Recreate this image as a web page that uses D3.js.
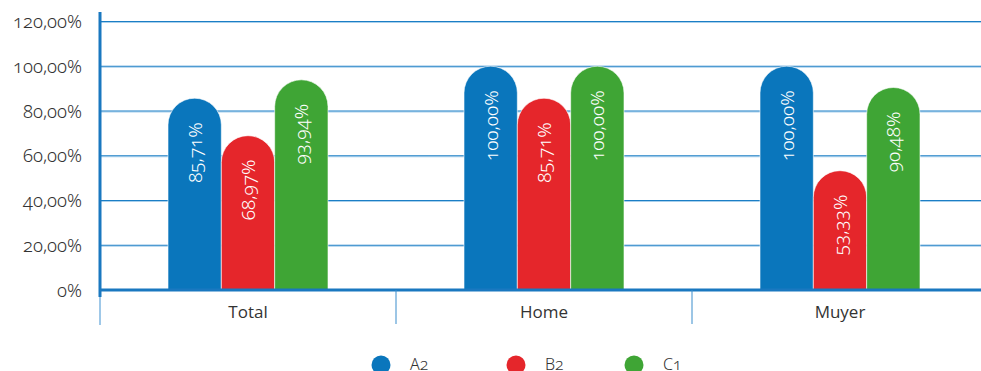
<!DOCTYPE html>
<html><head><meta charset="utf-8">
<script src="https://cdn.jsdelivr.net/npm/d3@7/dist/d3.min.js"></script>
<style>
body{margin:0;background:#fff;}
svg{display:block;}
.num{font-family:"Noto Sans",sans-serif;font-weight:300;font-variant-numeric:oldstyle-nums;font-feature-settings:"onum" 1;}
</style></head><body>
<svg id="c" width="981" height="371"></svg>
<script>
const categories = ["Total","Home","Muyer"];
const seriesNames = ["A2","B2","C1"];
const seriesColors = ["#0a76bc","#e5262b","#3fa535"];
const A2 = [85.71, 100.00, 100.00];
const B2 = [68.97, 85.71, 53.33];
const C1 = [93.94, 100.00, 90.48];
const yTicks = [0,20,40,60,80,100,120];
const yTickLabels = ["0%","20,00%","40,00%","60,00%","80,00%","100,00%","120,00%"];

const series = [A2,B2,C1];
const svg = d3.select("#c");
const pLeft = 100, pRight = 988, pTop = 21.5, pBottom = 290;
const y = d3.scaleLinear().domain([0,120]).range([pBottom, pTop]);
const x = d3.scaleBand().domain(categories).range([pLeft, pRight]);
const inner = d3.scaleBand().domain(seriesNames).range([0,160]).paddingInner(0.0);
const fmt = v => v.toFixed(2).replace(".", ",") + "%";

// gridlines
const g = svg.append("g");
yTicks.filter(t=>t>0).forEach(t=>{
  g.append("line").attr("x1",pLeft).attr("x2",981).attr("y1",y(t)+1).attr("y2",y(t)+1).attr("stroke","#a9d0ec").attr("stroke-width",1);
  g.append("line").attr("x1",pLeft).attr("x2",981).attr("y1",y(t)).attr("y2",y(t)).attr("stroke","#1b7ec5").attr("stroke-width",1.2);
});

// y tick labels
svg.append("g").selectAll("text").data(yTicks).join("text")
  .attr("class","num")
  .attr("x",82).attr("y",d=>y(d)).attr("dy","0.36em")
  .attr("text-anchor","end").attr("font-size",18.5).attr("fill","#333")
  .text((d,i)=>yTickLabels[i]);

// bars
categories.forEach((c,ci)=>{
  const gx = x(c) + (x.bandwidth()-160)/2;
  series.forEach((s,si)=>{
    const v = s[ci];
    const bx = gx + inner(seriesNames[si]);
    const w = inner.bandwidth();
    const r = w/2;
    const yt = y(v);
    const path = d3.path();
    path.moveTo(bx, pBottom);
    path.lineTo(bx, yt + r);
    path.arc(bx + r, yt + r, r, Math.PI, 0);
    path.lineTo(bx + w, pBottom);
    path.closePath();
    svg.append("path").attr("d", path.toString()).attr("fill", seriesColors[si])
      .attr("stroke","#fff").attr("stroke-width",0.6);
    svg.append("text").attr("class","num")
      .attr("transform",`translate(${bx + r},${yt + 24}) rotate(-90)`)
      .attr("text-anchor","end").attr("dy","0.36em")
      .attr("font-size",19).attr("fill","#fff")
      .text(fmt(v));
  });
});

// baseline
svg.append("line").attr("x1",pLeft).attr("x2",981).attr("y1",pBottom).attr("y2",pBottom)
  .attr("stroke","#1a78c0").attr("stroke-width",3);
// y axis
svg.append("line").attr("x1",pLeft).attr("x2",pLeft).attr("y1",12).attr("y2",297)
  .attr("stroke","#1a78c0").attr("stroke-width",3);
svg.append("line").attr("x1",pLeft).attr("x2",pLeft).attr("y1",297).attr("y2",325)
  .attr("stroke","#7fb6e0").attr("stroke-width",1.5);
// separators
categories.slice(1).forEach(c=>{
  svg.append("line").attr("x1",x(c)).attr("x2",x(c)).attr("y1",pBottom).attr("y2",324)
    .attr("stroke","#3b8dcc").attr("stroke-width",1);
});
// category labels
svg.append("g").selectAll("text").data(categories).join("text")
  .attr("x",d=>x(d)+x.bandwidth()/2).attr("y",318)
  .attr("text-anchor","middle").attr("font-family","'Open Sans',sans-serif")
  .attr("font-size",17).attr("fill","#333").text(d=>d);

// legend
const legX = [381,516,634];
seriesNames.forEach((n,i)=>{
  svg.append("circle").attr("cx",legX[i]).attr("cy",365).attr("r",9.5).attr("fill",seriesColors[i]);
  svg.append("text").attr("class","num").attr("x",legX[i]+29).attr("y",370)
    .attr("font-size",16).attr("fill","#333").text(n);
});
</script></body></html>
